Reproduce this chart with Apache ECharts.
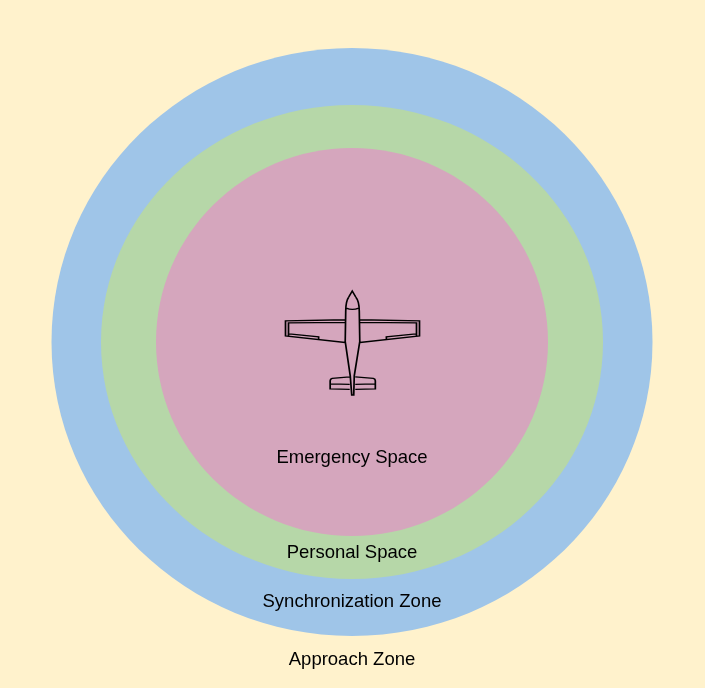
<!DOCTYPE html>
<html>

<head>
    <meta charset="utf-8">
    <title>Airspace zones</title>
    <script src="https://cdn.jsdelivr.net/npm/echarts@6/dist/echarts.min.js"></script>
    <style>
        * {
            margin: 0;
            padding: 0;
        }
    </style>
</head>

<body>
    <div id="main" style="width: 705px; height: 688px;"></div>
    <script type="text/javascript">
        // zones, outermost first (half width / half height in plot units)
        var zoneNames = ['Synchronization Zone', 'Personal Space', 'Emergency Space'];
        var zoneRx = [300.5, 251, 196];
        var zoneRy = [294, 237, 194];

        // text labels and their vertical place
        var labelNames = ['Emergency Space', 'Personal Space', 'Synchronization Zone', 'Approach Zone'];
        var labelY = [-116.2, -211.2, -259.5, -317.5];

        // top view of a small plane, drawn as an outline symbol
        var planePath = 'path://' +
            'M348.5 298 L352 292 L355.5 298 ' +
            'M348.5 298 Q345.5 302 345.5 312 L345 342 L350 376 L351.5 395 L353.5 395 L354 376 L359.5 342 L359 312 Q359 302 355.5 298 ' +
            'M346 309 Q352 311.5 358.5 309 ' +
            'M345.5 320.5 L285.5 321.5 L285.5 336.5 L345 343 ' +
            'M345.5 323 L288.5 323.5 L288.5 337 ' +
            'M289 334.5 L318.5 337.5 L318.5 339.5 ' +
            'M359 320.5 L419 321.5 L419 336.5 L359.5 343 ' +
            'M359 323 L416 323.5 L416 337 ' +
            'M415.5 334.5 L386 337.5 L386 339.5 ' +
            'M349.5 377 L332 378.5 Q330 379 330 381 L330 389 L349.5 389.5 ' +
            'M330 384 L349.5 384.5 ' +
            'M355 377 L373 378.5 Q375 379 375 381 L375 389 L355 389.5 ' +
            'M375 384 L355 384.5';

        var zoneColors = ['#9fc5e8', '#b6d7a8', '#d5a6bd'];

        var myChart = echarts.init(document.getElementById('main'));

        var zoneData = zoneNames.map(function (name, i) {
            return { name: name, value: [0, 0, zoneRx[i], zoneRy[i]] };
        });
        var labelData = labelNames.map(function (name, i) {
            return { name: name, value: [0, labelY[i]] };
        });

        var option = {
            backgroundColor: '#fff2cc',
            animation: false,
            grid: { left: 0, right: 0, top: 0, bottom: 0 },
            xAxis: { type: 'value', min: -352, max: 353, show: false },
            yAxis: { type: 'value', min: -346, max: 342, show: false },
            series: [
                {
                    type: 'custom',
                    silent: true,
                    data: zoneData,
                    renderItem: function (params, api) {
                        var c = api.coord([api.value(0), api.value(1)]);
                        var s = api.size([api.value(2), api.value(3)]);
                        return {
                            type: 'ellipse',
                            shape: { cx: c[0], cy: c[1], rx: s[0], ry: s[1] },
                            style: { fill: zoneColors[params.dataIndex] }
                        };
                    }
                },
                {
                    type: 'scatter',
                    silent: true,
                    data: [[0.5, -1]],
                    symbol: planePath,
                    symbolSize: [134, 104],
                    itemStyle: {
                        color: 'rgba(0,0,0,0)',
                        borderColor: '#000',
                        borderWidth: 1.5,
                        opacity: 1
                    }
                },
                {
                    type: 'custom',
                    silent: true,
                    data: labelData,
                    renderItem: function (params, api) {
                        var p = api.coord([api.value(0), api.value(1)]);
                        return {
                            type: 'text',
                            x: p[0],
                            y: p[1],
                            style: {
                                text: labelNames[params.dataIndex],
                                fill: '#000',
                                font: '18.5px "Liberation Sans", Arial, sans-serif',
                                align: 'center',
                                verticalAlign: 'middle'
                            }
                        };
                    }
                }
            ]
        };

        myChart.setOption(option);
    </script>
</body>

</html>
